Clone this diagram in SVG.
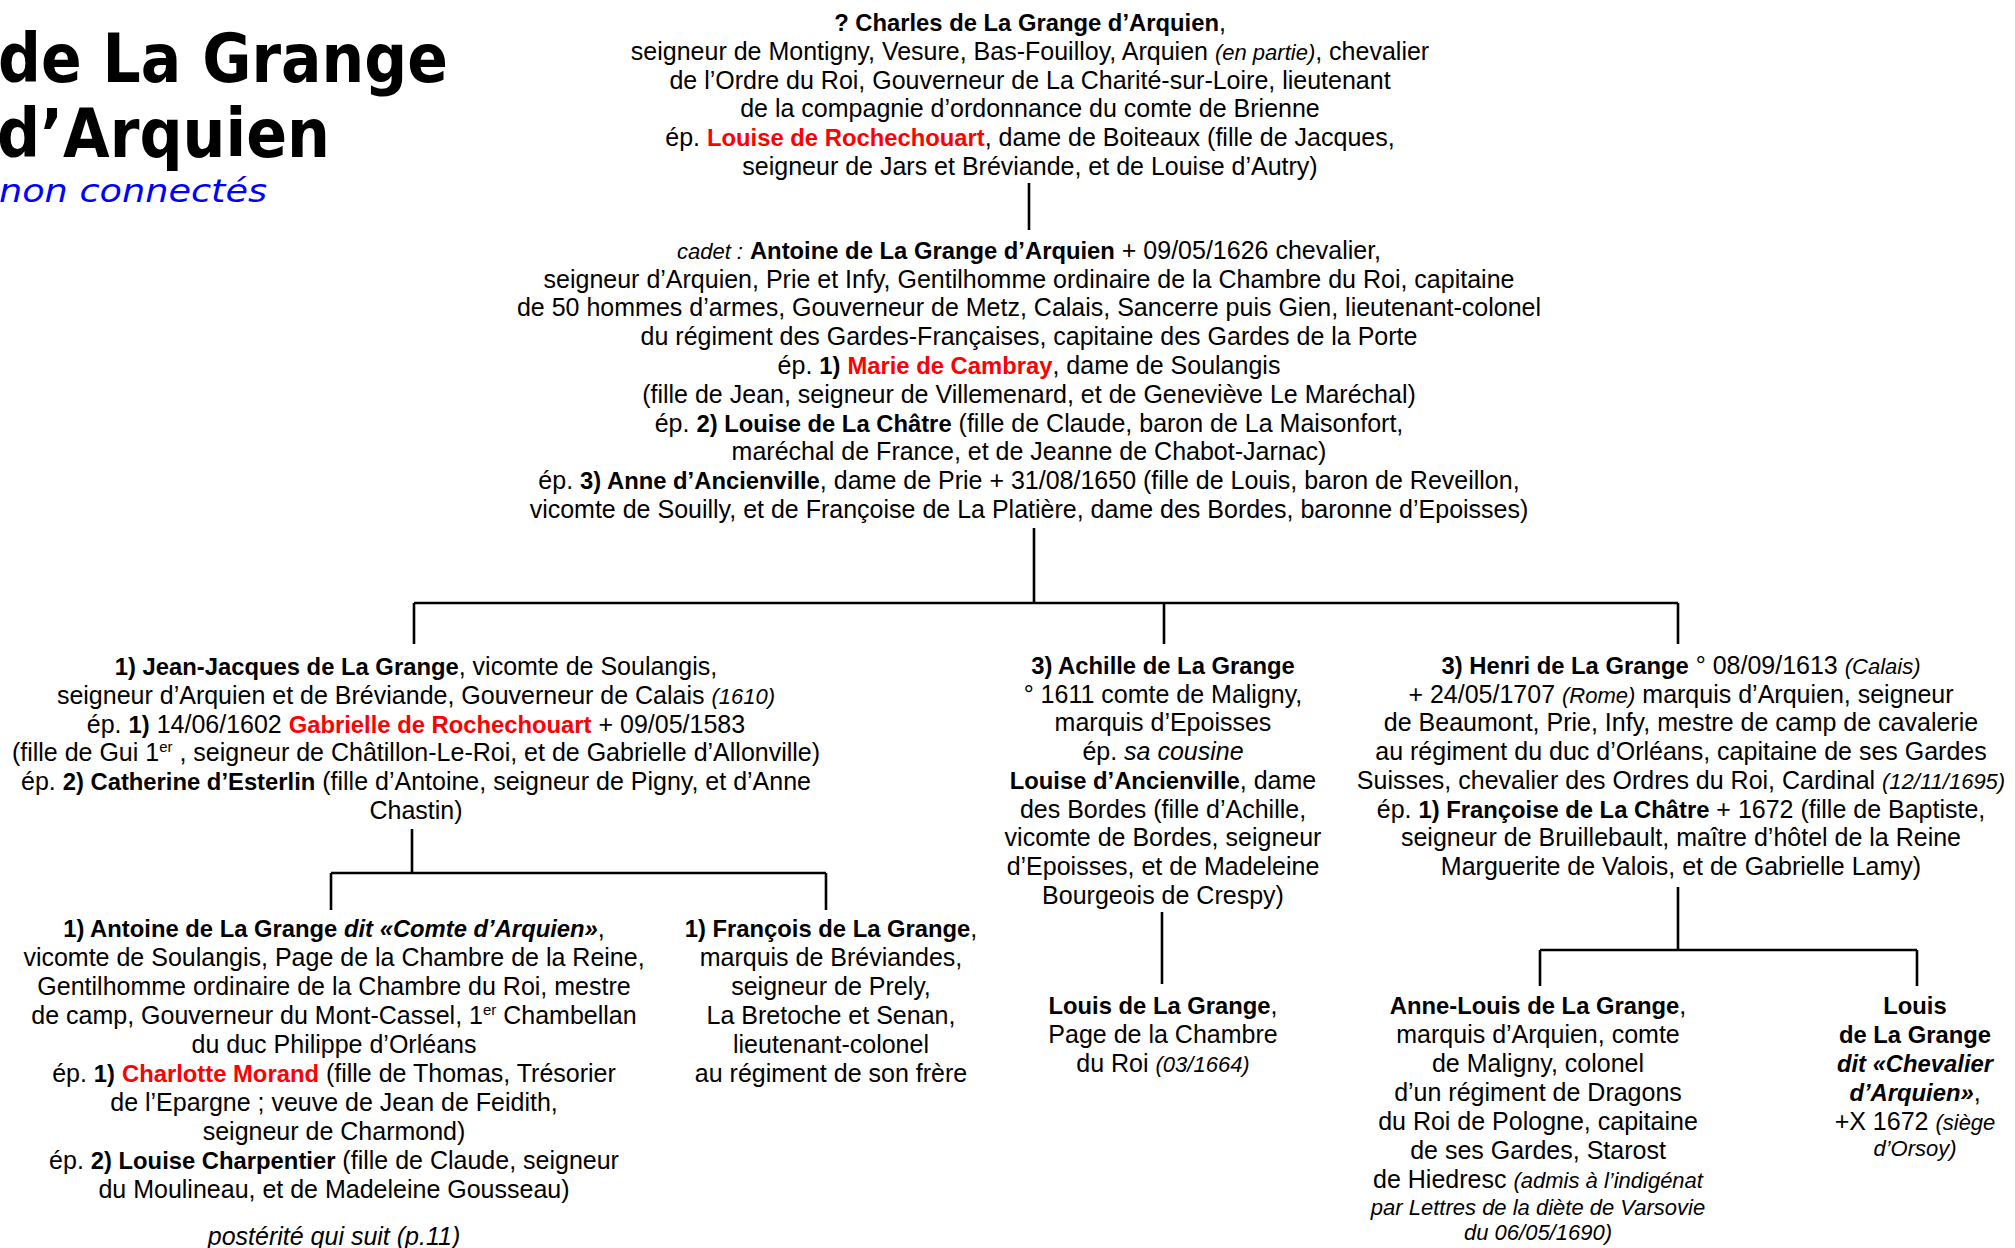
<svg xmlns="http://www.w3.org/2000/svg" width="2015" height="1248" viewBox="0 0 2015 1248">
<style>
text{font-family:"Liberation Sans",Arial,sans-serif;font-size:25px;fill:#000;text-anchor:middle}
.b{font-weight:bold;font-size:23.8px}
.i{font-style:italic}
.s{font-size:22px}
.r{fill:#FF0000;font-weight:bold;font-size:23.8px}
.sup{font-size:15px}
.ttl{font-family:"DejaVu Sans",Verdana,sans-serif;font-weight:bold;font-size:67px;text-anchor:start}
.sub{font-family:"DejaVu Sans",Verdana,sans-serif;font-style:italic;font-size:32px;fill:#0000FF;text-anchor:start}
.ln{stroke:#000;stroke-width:2.6;fill:none}
</style>
<rect width="2015" height="1248" fill="#fff"/>
<g id="title">
<text class="ttl" x="-2" y="82" textLength="450" lengthAdjust="spacingAndGlyphs">de La Grange</text>
<text class="ttl" x="-3" y="157" textLength="333" lengthAdjust="spacingAndGlyphs">d’Arquien</text>
<text class="sub" x="-1" y="202" textLength="268" lengthAdjust="spacingAndGlyphs">non connectés</text>
</g>
<g id="connectors">
<path class="ln" d="M1029 183V230"/>
<path class="ln" d="M1034 528V603M414 603H1678M414 603V644M1164 603V644M1678 603V644"/>
<path class="ln" d="M412 829V873M331 873H826M331 873V910M826 873V910"/>
<path class="ln" d="M1162 912V984"/>
<path class="ln" d="M1678 887V950M1540 950H1917M1540 950V986M1917 950V986"/>
</g>
<g id="charles">
<text x="1030" y="31"><tspan class="b">? Charles de La Grange d’Arquien</tspan>,</text>
<text x="1030" y="60">seigneur de Montigny, Vesure, Bas-Fouilloy, Arquien <tspan class="i s">(en partie)</tspan>, chevalier</text>
<text x="1030" y="89">de l’Ordre du Roi, Gouverneur de La Charité-sur-Loire, lieutenant</text>
<text x="1030" y="117">de la compagnie d’ordonnance du comte de Brienne</text>
<text x="1030" y="146">ép. <tspan class="r">Louise de Rochechouart</tspan>, dame de Boiteaux (fille de Jacques,</text>
<text x="1030" y="175">seigneur de Jars et Bréviande, et de Louise d’Autry)</text>
</g>
<g id="antoine-pere">
<text x="1029" y="259"><tspan class="i s">cadet :</tspan> <tspan class="b">Antoine de La Grange d’Arquien</tspan> + 09/05/1626 chevalier,</text>
<text x="1029" y="288">seigneur d’Arquien, Prie et Infy, Gentilhomme ordinaire de la Chambre du Roi, capitaine</text>
<text x="1029" y="316">de 50 hommes d’armes, Gouverneur de Metz, Calais, Sancerre puis Gien, lieutenant-colonel</text>
<text x="1029" y="345">du régiment des Gardes-Françaises, capitaine des Gardes de la Porte</text>
<text x="1029" y="374">ép. <tspan class="b">1)</tspan> <tspan class="r">Marie de Cambray</tspan>, dame de Soulangis</text>
<text x="1029" y="403">(fille de Jean, seigneur de Villemenard, et de Geneviève Le Maréchal)</text>
<text x="1029" y="432">ép. <tspan class="b">2) Louise de La Châtre</tspan> (fille de Claude, baron de La Maisonfort,</text>
<text x="1029" y="460">maréchal de France, et de Jeanne de Chabot-Jarnac)</text>
<text x="1029" y="489">ép. <tspan class="b">3) Anne d’Ancienville</tspan>, dame de Prie + 31/08/1650 (fille de Louis, baron de Reveillon,</text>
<text x="1029" y="518">vicomte de Souilly, et de Françoise de La Platière, dame des Bordes, baronne d’Epoisses)</text>
</g>
<g id="jean-jacques">
<text x="416" y="675"><tspan class="b">1) Jean-Jacques de La Grange</tspan>, vicomte de Soulangis,</text>
<text x="416" y="704">seigneur d’Arquien et de Bréviande, Gouverneur de Calais <tspan class="i s">(1610)</tspan></text>
<text x="416" y="733">ép. <tspan class="b">1)</tspan> 14/06/1602 <tspan class="r">Gabrielle de Rochechouart</tspan> + 09/05/1583</text>
<text x="416" y="761">(fille de Gui 1<tspan class="sup" dy="-9">er</tspan><tspan dy="9"> , seigneur de Châtillon-Le-Roi, et de Gabrielle d’Allonville)</tspan></text>
<text x="416" y="790">ép. <tspan class="b">2) Catherine d’Esterlin</tspan> (fille d’Antoine, seigneur de Pigny, et d’Anne</text>
<text x="416" y="819">Chastin)</text>
</g>
<g id="achille">
<text x="1163" y="674" class="b">3) Achille de La Grange</text>
<text x="1163" y="703">° 1611 comte de Maligny,</text>
<text x="1163" y="731">marquis  d’Epoisses</text>
<text x="1163" y="760">ép. <tspan class="i">sa cousine</tspan></text>
<text x="1163" y="789"><tspan class="b">Louise d’Ancienville</tspan>, dame</text>
<text x="1163" y="818">des Bordes (fille d’Achille,</text>
<text x="1163" y="846">vicomte de Bordes, seigneur</text>
<text x="1163" y="875">d’Epoisses, et de Madeleine</text>
<text x="1163" y="904">Bourgeois de Crespy)</text>
</g>
<g id="henri">
<text x="1681" y="674"><tspan class="b">3) Henri de La Grange</tspan> ° 08/09/1613 <tspan class="i s">(Calais)</tspan></text>
<text x="1681" y="703">+ 24/05/1707 <tspan class="i s">(Rome)</tspan> marquis d’Arquien, seigneur</text>
<text x="1681" y="731">de Beaumont, Prie, Infy, mestre de camp de cavalerie</text>
<text x="1681" y="760">au régiment du duc d’Orléans, capitaine de ses Gardes</text>
<text x="1681" y="789">Suisses, chevalier des Ordres du Roi, Cardinal <tspan class="i s">(12/11/1695)</tspan></text>
<text x="1681" y="818">ép. <tspan class="b">1) Françoise de La Châtre</tspan> + 1672 (fille de Baptiste,</text>
<text x="1681" y="846">seigneur de Bruillebault, maître d’hôtel de la Reine</text>
<text x="1681" y="875">Marguerite de Valois, et de Gabrielle Lamy)</text>
</g>
<g id="antoine-fils">
<text x="334" y="937"><tspan class="b">1) Antoine de La Grange <tspan class="i">dit «Comte d’Arquien»</tspan></tspan>,</text>
<text x="334" y="966">vicomte de Soulangis, Page de la Chambre de la Reine,</text>
<text x="334" y="995">Gentilhomme ordinaire de la Chambre du Roi, mestre</text>
<text x="334" y="1024">de camp, Gouverneur du Mont-Cassel, 1<tspan class="sup" dy="-9">er</tspan><tspan dy="9"> Chambellan</tspan></text>
<text x="334" y="1053">du duc Philippe d’Orléans</text>
<text x="334" y="1082">ép. <tspan class="b">1)</tspan> <tspan class="r">Charlotte Morand</tspan> (fille de Thomas, Trésorier</text>
<text x="334" y="1111">de l’Epargne ; veuve de Jean de Feidith,</text>
<text x="334" y="1140">seigneur  de  Charmond)</text>
<text x="334" y="1169">ép. <tspan class="b">2) Louise Charpentier</tspan> (fille de Claude, seigneur</text>
<text x="334" y="1198">du Moulineau, et de Madeleine Gousseau)</text>
<text x="334" y="1245" class="i">postérité qui suit (p.11)</text>
</g>
<g id="francois">
<text x="831" y="937"><tspan class="b">1) François de La Grange</tspan>,</text>
<text x="831" y="966">marquis  de  Bréviandes,</text>
<text x="831" y="995">seigneur de Prely,</text>
<text x="831" y="1024">La Bretoche et Senan,</text>
<text x="831" y="1053">lieutenant-colonel</text>
<text x="831" y="1082">au régiment de  son frère</text>
</g>
<g id="louis-page">
<text x="1163" y="1014"><tspan class="b">Louis de La Grange</tspan>,</text>
<text x="1163" y="1043">Page de la Chambre</text>
<text x="1163" y="1072">du Roi <tspan class="i s">(03/1664)</tspan></text>
</g>
<g id="anne-louis">
<text x="1538" y="1014"><tspan class="b">Anne-Louis de La Grange</tspan>,</text>
<text x="1538" y="1043">marquis d’Arquien, comte</text>
<text x="1538" y="1072">de Maligny, colonel</text>
<text x="1538" y="1101">d’un régiment de Dragons</text>
<text x="1538" y="1130">du Roi de Pologne, capitaine</text>
<text x="1538" y="1159">de ses Gardes, Starost</text>
<text x="1538" y="1188">de Hiedresc <tspan class="i s">(admis à l’indigénat</tspan></text>
<text x="1538" y="1215" class="i s">par Lettres de la diète de Varsovie</text>
<text x="1538" y="1240" class="i s">du 06/05/1690)</text>
</g>
<g id="louis-chevalier">
<text x="1915" y="1014" class="b">Louis</text>
<text x="1915" y="1043" class="b">de La Grange</text>
<text x="1915" y="1072" class="b i">dit «Chevalier</text>
<text x="1915" y="1101"><tspan class="b i">d’Arquien»</tspan>,</text>
<text x="1915" y="1130">+X 1672 <tspan class="i s">(siège</tspan></text>
<text x="1915" y="1156" class="i s">d’Orsoy)</text>
</g>
</svg>
